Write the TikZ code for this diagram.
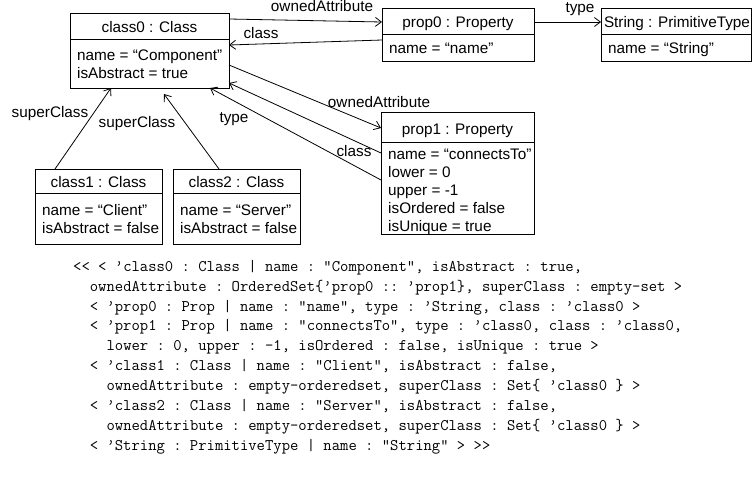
\documentclass[tikz,border=0pt]{standalone}
\usepackage{fontspec}
\setmainfont{Liberation Sans}
\setmonofont{Latin Modern Mono}
\usetikzlibrary{arrows.meta}
\begin{document}
\begin{tikzpicture}[x=1pt,y=-1pt,
  box/.style={draw, line width=0.9pt, inner sep=0pt, outer sep=0pt, anchor=north west},
  hdr/.style={anchor=base, inner sep=0pt, font=\fontsize{15.3}{18}\selectfont},
  attr/.style={anchor=north west, inner sep=0pt, align=left, font=\fontsize{15.3}{18}\selectfont},
  lbl/.style={anchor=base, inner sep=0pt, font=\fontsize{15.3}{18}\selectfont},
  conn/.style={line width=0.8pt, -{Straight Barb[length=6pt,width=9pt,line width=0.8pt]}},
  code/.style={anchor=north west, inner sep=0pt, align=left, font=\ttfamily\fontsize{16.2}{19.9}\selectfont}]
\useasboundingbox (0,0) rectangle (752,477);

% boxes
\node[box, minimum width=159pt, minimum height=75pt] (c0) at (70,13) {};
\draw[line width=0.9pt] (c0.west |- 0,39) -- (c0.east |- 0,39);
\node[hdr] (c0h) at (149.5,32) {class0 : Class};
\node[attr] (c0a) at (77,47.4) {\strut name = “Component”\\\strut isAbstract = true};

\node[box, minimum width=152pt, minimum height=53pt] (p0) at (382,8) {};
\draw[line width=0.9pt] (p0.west |- 0,34) -- (p0.east |- 0,34);
\node[hdr] (p0h) at (458,27) {prop0 : Property};
\node[attr] (p0a) at (389,40.4) {\strut name = “name”};

\node[box, minimum width=150pt, minimum height=53pt] (str) at (601,8) {};
\draw[line width=0.9pt] (str.west |- 0,34) -- (str.east |- 0,34);
\node[hdr] (strh) at (677,27) {String : PrimitiveType};
\node[attr] (stra) at (608,40.4) {\strut name = “String”};

\node[box, minimum width=153pt, minimum height=122pt] (p1) at (381,112) {};
\draw[line width=0.9pt] (p1.west |- 0,142) -- (p1.east |- 0,142);
\node[hdr] (p1h) at (457.5,134) {prop1 : Property};
\node[attr] (p1a) at (388,146.4) {\strut name = “connectsTo”\\\strut lower = 0\\\strut upper = -1\\\strut isOrdered = false\\\strut isUnique = true};

\node[box, minimum width=127pt, minimum height=75pt] (c1) at (35,169) {};
\draw[line width=0.9pt] (c1.west |- 0,193) -- (c1.east |- 0,193);
\node[hdr] (c1h) at (98.5,187) {class1 : Class};
\node[attr] (c1a) at (42,202.4) {\strut name = “Client”\\\strut isAbstract = false};

\node[box, minimum width=127pt, minimum height=75pt] (c2) at (173,169) {};
\draw[line width=0.9pt] (c2.west |- 0,193) -- (c2.east |- 0,193);
\node[hdr] (c2h) at (236.5,187) {class2 : Class};
\node[attr] (c2a) at (180,202.4) {\strut name = “Server”\\\strut isAbstract = false};

% connectors
\draw[conn] ([yshift=-6pt]c0.north east) -- ([yshift=-14pt]p0.north west);
\draw[conn] ([yshift=-32pt]p0.north west) -- ([yshift=-32pt]c0.north east);
\draw[conn] ([yshift=-14pt]p0.north east) -- ([yshift=-14pt]str.north west);
\draw[conn] ([xshift=20pt]c1.north west) -- ([xshift=41pt]c0.south west);
\draw[conn] ([xshift=46pt]c2.north west) -- ([xshift=94pt,yshift=-6pt]c0.south west);
\draw[conn] ([yshift=-52pt]c0.north east) -- ([yshift=-16pt]p1.north west);
\draw[conn] ([yshift=-41pt]p1.north west) -- ([yshift=5pt]c0.south east);
\draw[conn] ([yshift=-68pt]p1.north west) -- ([xshift=-19pt]c0.south east);

% labels
\node[lbl] (l1) at (322,11) {ownedAttribute};
\node[lbl] (l2) at (261,38) {class};
\node[lbl] (l3) at (580,12) {type};
\node[lbl] (l4) at (50,117) {superClass};
\node[lbl] (l5) at (137,127) {superClass};
\node[lbl] (l6) at (234,122) {type};
\node[lbl] (l7) at (379,107) {ownedAttribute};
\node[lbl] (l8) at (354,156) {class};

% code
\node[code] (src) at (73,257.07) {%
\strut<{}< < ’class0 : Class | name : "Component", isAbstract : true,\\
\strut\hphantom{xx}ownedAttribute : OrderedSet\{’prop0 :: ’prop1\}, superClass : empty-set >\\
\strut\hphantom{xx}< ’prop0 : Prop | name : "name", type : ’String, class : ’class0 >\\
\strut\hphantom{xx}< ’prop1 : Prop | name : "connectsTo", type : ’class0, class : ’class0,\\
\strut\hphantom{xxxx}lower : 0, upper : -1, isOrdered : false, isUnique : true >\\
\strut\hphantom{xx}< ’class1 : Class | name : "Client", isAbstract : false,\\
\strut\hphantom{xxxx}ownedAttribute : empty-orderedset, superClass : Set\{ ’class0 \} >\\
\strut\hphantom{xx}< ’class2 : Class | name : "Server", isAbstract : false,\\
\strut\hphantom{xxxx}ownedAttribute : empty-orderedset, superClass : Set\{ ’class0 \} >\\
\strut\hphantom{xx}< ’String : PrimitiveType | name : "String" > >{}>};
\end{tikzpicture}
\end{document}
